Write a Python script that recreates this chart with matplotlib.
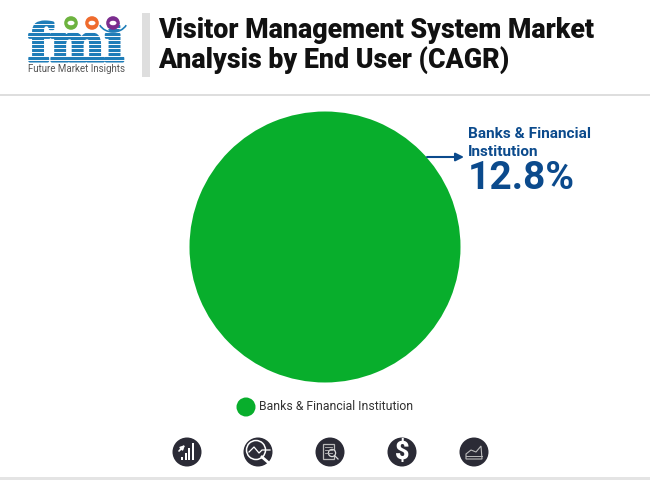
import matplotlib
matplotlib.use('Agg')
import matplotlib.pyplot as plt
import matplotlib.patheffects as pe
from matplotlib.patches import Circle, Rectangle, Polygon, Arc, Ellipse

# Chart data
categories = ['Banks & Financial Institution']
shares = [100]
cagr_label = '12.8%'
callout_lines = ['Banks & Financial', 'Institution']
title_lines = ['Visitor Management System Market', 'Analysis by End User (CAGR)']
icon_x = [187, 258, 330, 402, 474]

GREEN = '#08AE2C'
NAVY = '#0B4A8C'
DARK = '#2B2B36'
FMI_BLUE = '#1F7DB8'

fig = plt.figure(figsize=(6.5, 4.8), dpi=100)
plt.rcParams['font.family'] = 'Roboto'

# Overlay in pixel coordinates for the page furniture
bg = fig.add_axes([0, 0, 1, 1])
bg.set_xlim(0, 650)
bg.set_ylim(480, 0)
bg.axis('off')

# Header
bg.add_patch(Rectangle((142, 13), 8, 64, color='#DEDEDE', lw=0))
bg.add_patch(Rectangle((0, 94), 650, 2, color='#DEDEDE', lw=0))
bg.add_patch(Rectangle((0, 477), 650, 3, color='#E4E4E4', lw=0))
bg.text(158.5, 31, title_lines[0], fontsize=19.3, fontweight=900, color='#111111', va='center', ha='left')
bg.text(158.5, 60, title_lines[1], fontsize=19.3, fontweight=900, color='#111111', va='center', ha='left')

# Logo
logo = bg.text(76, 61, 'fmi', fontsize=37, fontweight='bold', family='DejaVu Serif', color=FMI_BLUE,
               va='baseline', ha='center', zorder=2)
logo.set_path_effects([pe.withStroke(linewidth=2.2, foreground=FMI_BLUE)])
for y in range(24, 62, 4):
    bg.plot([24, 130], [y, y], color='white', lw=0.7, zorder=3)
bg.add_patch(Arc((113, 19), 30, 26, theta1=25, theta2=155, angle=0, ec=FMI_BLUE, lw=1.2, zorder=3))
for cx, col in zip([71, 92, 113], ['#6DB33F', '#EF6B2D', '#7B2D8E']):
    bg.add_patch(Circle((cx, 23), 6.8, color=col, lw=0, zorder=4))
    bg.add_patch(Ellipse((cx, 23), 7, 4.5, color='white', lw=0, zorder=5))
bg.text(76, 68.5, 'Future Market Insights', fontsize=7.0, color='#555555', va='center', ha='center', zorder=6)

# Callout
bg.annotate('', xy=(464, 157), xytext=(427, 157),
            arrowprops=dict(arrowstyle='-|>', color=NAVY, lw=1.5, mutation_scale=12, shrinkA=0, shrinkB=0))
bg.text(468, 133.5, callout_lines[0], fontsize=11.1, fontweight='bold', color=NAVY, va='center', ha='left')
bg.text(468, 151.5, callout_lines[1], fontsize=11.1, fontweight='bold', color=NAVY, va='center', ha='left')
bg.text(468, 178.5, cagr_label, fontsize=28, fontweight='bold', color=NAVY, va='center', ha='left')

# Legend
bg.add_patch(Circle((246, 407), 9.5, color=GREEN, lw=0))
bg.text(259, 407, categories[0], fontsize=8.85, color='#333333', va='center', ha='left')

# Icons
for x in icon_x:
    bg.add_patch(Circle((x, 452), 14.5, color=DARK, lw=0))

# 1: rising bars and arrow
x = icon_x[0]
for i, h in enumerate([3, 7, 12, 17]):
    bg.add_patch(Rectangle((x - 6 + i * 3.6, 460 - h), 2.2, h, color='white', lw=0))
bg.annotate('', xy=(x - 2, 445), xytext=(x - 8, 451),
            arrowprops=dict(arrowstyle='-|>', color='white', lw=1.2, mutation_scale=6, shrinkA=0, shrinkB=0))

# 2: magnifier over a line
x = icon_x[1]
bg.add_patch(Circle((x - 2, 450), 9.5, fill=False, ec='white', lw=1.1))
bg.plot([x - 9, x - 4, x + 1, x + 4, x + 12], [452, 447, 453, 450, 450], color='white', lw=0.9)
bg.plot([x + 4, x + 12], [457, 464], color='white', lw=2)

# 3: document with magnifier
x = icon_x[2]
bg.add_patch(Rectangle((x - 7, 444), 11, 15, fill=False, ec='#BBBBBB', lw=0.9))
for y in [447, 450, 453]:
    bg.plot([x - 5, x + 2], [y, y], color='#BBBBBB', lw=0.6)
bg.add_patch(Circle((x + 2, 453), 3.6, color=DARK, ec='#DDDDDD', lw=0.9))
bg.plot([x + 5, x + 8], [456, 459], color='#DDDDDD', lw=0.9)

# 4: dollar sign
x = icon_x[3]
bg.text(x, 452, '$', fontsize=18, fontweight=900, color='white', va='center', ha='center')

# 5: area chart
x = icon_x[4]
bg.add_patch(Polygon([(x - 8, 459), (x - 8, 454), (x - 3, 450), (x + 2, 452), (x + 7, 446), (x + 8, 459)],
                     closed=True, fill=False, ec='#BBBBBB', lw=0.8))
bg.plot([x - 8, x + 8], [456, 456], color='#BBBBBB', lw=0.7)

# Pie, sized so that radius 1 fills the axes
cx, cy, r = 325, 247, 135.5
ax = fig.add_axes([(cx - r) / 650, 1 - (cy + r) / 480, 2 * r / 650, 2 * r / 480], zorder=-1)
ax.pie(shares, colors=[GREEN], radius=1, startangle=90)
ax.set_xlim(-1, 1)
ax.set_ylim(-1, 1)

fig.savefig('out.png', dpi=100)
